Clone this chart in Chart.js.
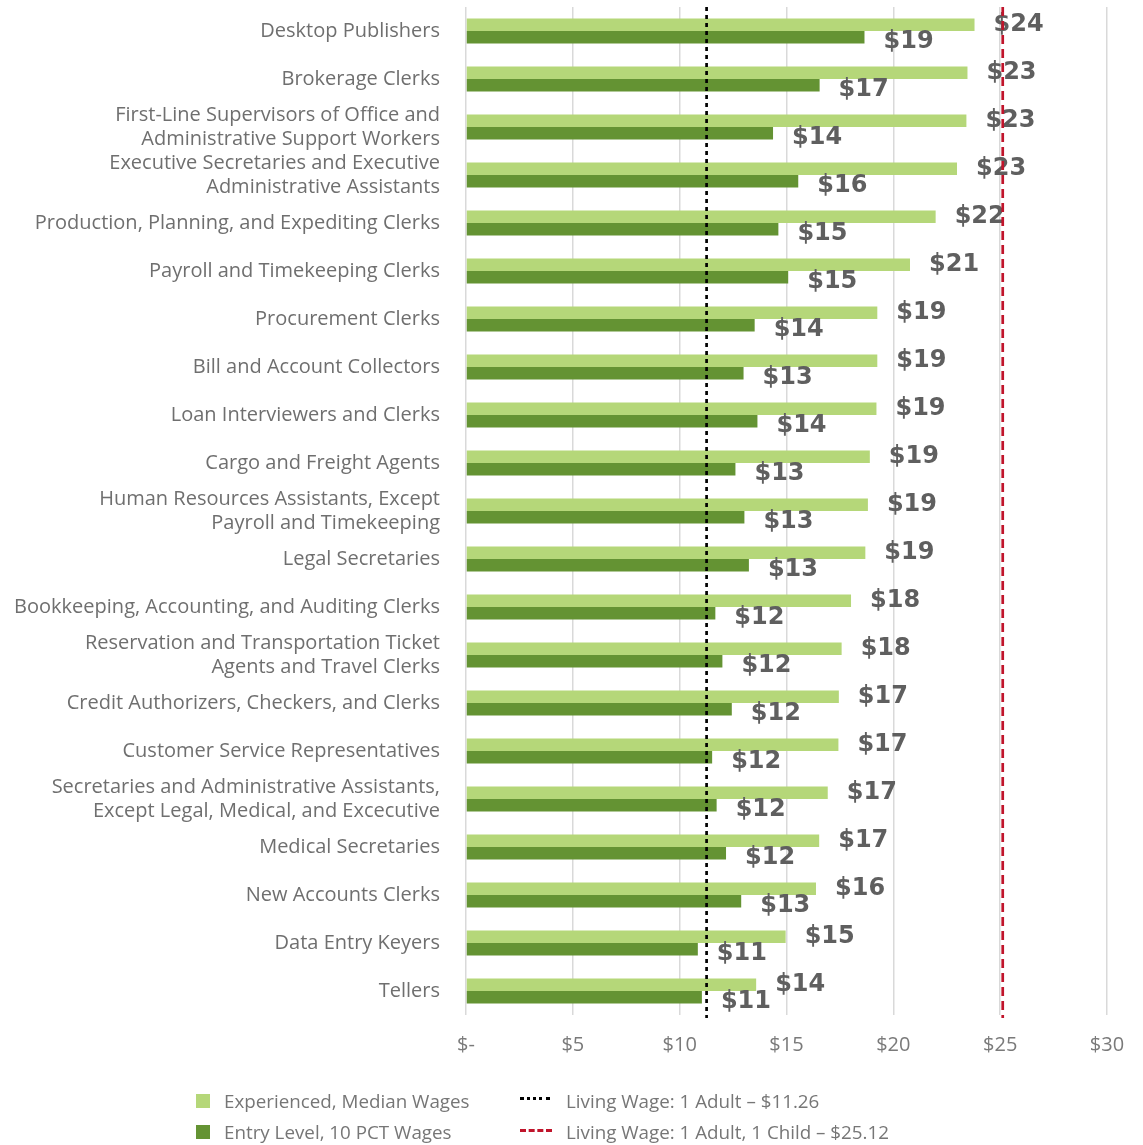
<!DOCTYPE html>
<html>
<head>
<meta charset="utf-8">
<script src="https://cdn.jsdelivr.net/npm/chart.js@4.4.1/dist/chart.umd.min.js"></script>
<style>
  body { margin: 0; background: #fff; font-family: "Open Sans", sans-serif; }
  #wrap { position: relative; width: 1143px; height: 1145px; }
  #legend { position: absolute; left: 0; top: 0; width: 1143px; height: 1145px; pointer-events: none; }
  .item { position: absolute; font-size: 18.8px; color: #767676; line-height: 20px; white-space: nowrap; }
  .sw { position: absolute; width: 14px; height: 14px; }
  .ln { position: absolute; width: 32px; height: 0; border-top-width: 3px; }
</style>
</head>
<body>
<div id="wrap">
  <canvas id="myChart" width="1143" height="1075"></canvas>
  <div id="legend">
    <div class="sw" style="left:196px;top:1094px;background:#b5d779"></div>
    <div class="item" style="left:224px;top:1091px">Experienced, Median Wages</div>
    <div class="sw" style="left:196px;top:1125px;background:#649333"></div>
    <div class="item" style="left:224px;top:1122px">Entry Level, 10 PCT Wages</div>
    <div class="ln" style="left:520px;top:1097px;border-top-style:dotted;border-top-color:#000;width:30px"></div>
    <div class="item" style="left:566px;top:1091px">Living Wage: 1 Adult – $11.26</div>
    <div class="ln" style="left:520px;top:1129px;border-top-style:dashed;border-top-color:#c0142b;width:32px"></div>
    <div class="item" style="left:566px;top:1122px">Living Wage: 1 Adult, 1 Child – $25.12</div>
  </div>
</div>
<script>
const occupations = [
    'Desktop Publishers',
    'Brokerage Clerks',
    ['First-Line Supervisors of Office and', 'Administrative Support Workers'],
    ['Executive Secretaries and Executive', 'Administrative Assistants'],
    'Production, Planning, and Expediting Clerks',
    'Payroll and Timekeeping Clerks',
    'Procurement Clerks',
    'Bill and Account Collectors',
    'Loan Interviewers and Clerks',
    'Cargo and Freight Agents',
    ['Human Resources Assistants, Except', 'Payroll and Timekeeping'],
    'Legal Secretaries',
    'Bookkeeping, Accounting, and Auditing Clerks',
    ['Reservation and Transportation Ticket', 'Agents and Travel Clerks'],
    'Credit Authorizers, Checkers, and Clerks',
    'Customer Service Representatives',
    ['Secretaries and Administrative Assistants,', 'Except Legal, Medical, and Excecutive'],
    'Medical Secretaries',
    'New Accounts Clerks',
    'Data Entry Keyers',
    'Tellers'
];
const experiencedWages = [23.80, 23.47, 23.42, 22.98, 21.98, 20.78, 19.25, 19.25, 19.21, 18.90, 18.81,
    18.69, 18.02, 17.58, 17.45, 17.43, 16.93, 16.53, 16.38, 14.96, 13.58];
const entryWages = [18.65, 16.55, 14.37, 15.55, 14.62, 15.08, 13.51, 12.99, 13.64, 12.61, 13.03,
    13.24, 11.67, 12.00, 12.44, 11.52, 11.73, 12.17, 12.88, 10.85, 11.04];
const livingWageAdult = 11.26;
const livingWageAdultChild = 25.12;
const xTicks = [0, 5, 10, 15, 20, 25, 30];

// value labels at the end of each bar
const barLabels = {
    id: 'barLabels',
    afterDatasetsDraw(chart) {
        const ctx = chart.ctx;
        ctx.save();
        ctx.font = 'bold 24px "DejaVu Sans", sans-serif';
        ctx.fillStyle = '#5f5f5f';
        ctx.textAlign = 'left';
        ctx.textBaseline = 'middle';
        chart.data.datasets.forEach((ds, di) => {
            const meta = chart.getDatasetMeta(di);
            meta.data.forEach((bar, i) => {
                const v = ds.data[i];
                ctx.fillText('$' + Math.round(v), bar.x + 19, bar.y + (di === 1 ? 5 : 0));
            });
        });
        ctx.restore();
    }
};

// vertical living wage lines
const wageLines = {
    id: 'wageLines',
    afterDatasetsDraw(chart) {
        const ctx = chart.ctx;
        const x = chart.scales.x;
        const area = chart.chartArea;
        const lines = [
            { value: livingWageAdult, color: '#000000', dash: [4, 4] },
            { value: livingWageAdultChild, color: '#c0142b', dash: [9, 5] }
        ];
        ctx.save();
        lines.forEach(l => {
            const px = x.getPixelForValue(l.value);
            ctx.beginPath();
            ctx.setLineDash(l.dash);
            ctx.strokeStyle = l.color;
            ctx.lineWidth = 2.7;
            ctx.moveTo(px, area.top);
            ctx.lineTo(px, area.bottom + 3);
            ctx.stroke();
        });
        ctx.restore();
    }
};

const ctx = document.getElementById('myChart').getContext('2d');
new Chart(ctx, {
    type: 'bar',
    data: {
        labels: occupations,
        datasets: [{
            label: 'Experienced, Median Wages',
            data: experiencedWages,
            backgroundColor: '#b5d779',
            borderWidth: 0
        }, {
            label: 'Entry Level, 10 PCT Wages',
            data: entryWages,
            backgroundColor: '#649333',
            borderWidth: 0
        }]
    },
    options: {
        indexAxis: 'y',
        responsive: false,
        animation: false,
        events: [],
        layout: { padding: { top: 7, right: 36, bottom: 0, left: 0 } },
        datasets: {
            bar: { categoryPercentage: 0.516, barPercentage: 1.0 }
        },
        plugins: {
            legend: { display: false },
            tooltip: { enabled: false }
        },
        scales: {
            x: {
                min: 0,
                max: 30,
                afterBuildTicks(scale) {
                    scale.ticks = xTicks.map(v => ({ value: v }));
                },
                afterFit(scale) { scale.paddingLeft = 0; scale.paddingRight = 0; },
                ticks: {
                    padding: 18,
                    color: '#7a7a7a',
                    font: { family: '"Open Sans", sans-serif', size: 20 },
                    callback: v => v === 0 ? '$-' : '$' + v
                },
                grid: { color: '#d9d9d9', lineWidth: 1.5, drawTicks: false },
                border: { display: false }
            },
            y: {
                afterFit(scale) {
                    scale.width = 466;
                    scale.paddingTop = 0;
                    scale.paddingBottom = 0;
                },
                ticks: {
                    autoSkip: false,
                    padding: 26,
                    color: '#6f6f6f',
                    font: { family: '"Open Sans", sans-serif', size: 20, lineHeight: 1.2 }
                },
                grid: { display: false, drawTicks: false },
                border: { display: false }
            }
        }
    },
    plugins: [barLabels, wageLines]
});
</script>
</body>
</html>
